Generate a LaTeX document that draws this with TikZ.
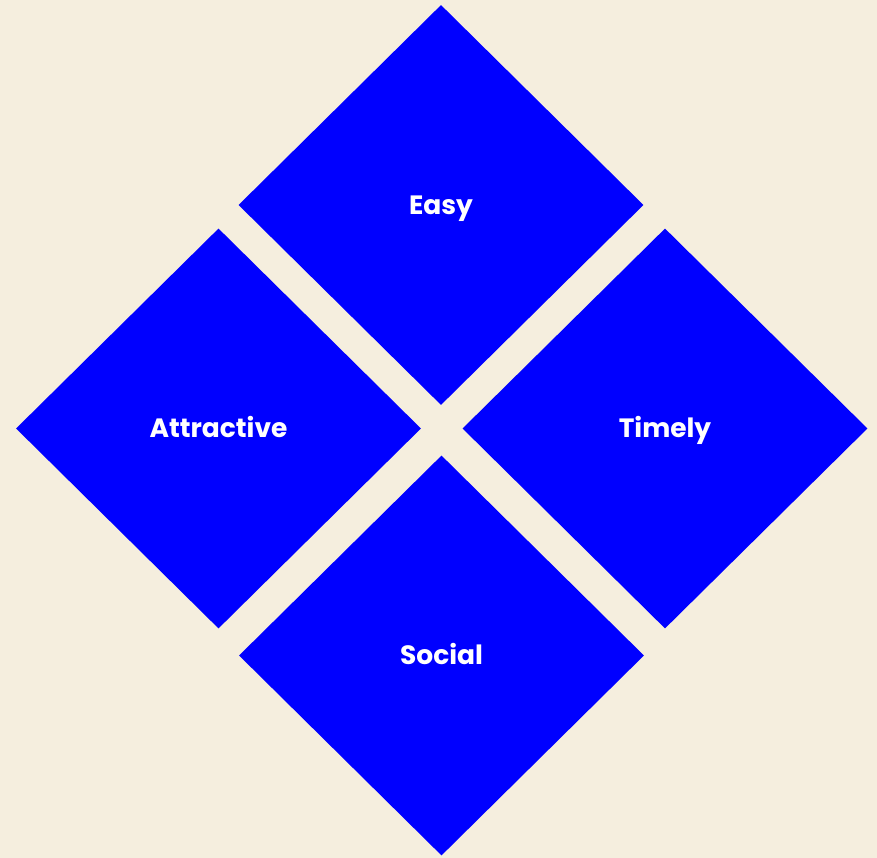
\documentclass[tikz,border=0pt]{standalone}
\usepackage{fontspec}
\setmainfont{Poppins}[BoldFont={Poppins Bold}]
\usetikzlibrary{shapes.geometric}
\definecolor{bgbeige}{RGB}{245,238,222}
\definecolor{diablue}{RGB}{0,0,255}
\begin{document}
\begin{tikzpicture}[x=1pt,y=1pt,
  petal/.style={diamond, aspect=1, fill=diablue, draw=none, inner sep=0pt,
    minimum width=405pt, minimum height=400pt, text=white,
    text height=18.5pt, text depth=0pt,
    font=\fontsize{26.5}{30}\selectfont\bfseries}]
\fill[bgbeige] (0,0) rectangle (877,858);
\useasboundingbox (0,0) rectangle (877,858);
\node[petal] (easy) at (441,653) {Easy};
\node[petal] (attractive) at (218.5,429.5) {Attractive};
\node[petal] (timely) at (665,429.5) {Timely};
\node[petal] (social) at (441.5,202.5) {Social};
\end{tikzpicture}
\end{document}
